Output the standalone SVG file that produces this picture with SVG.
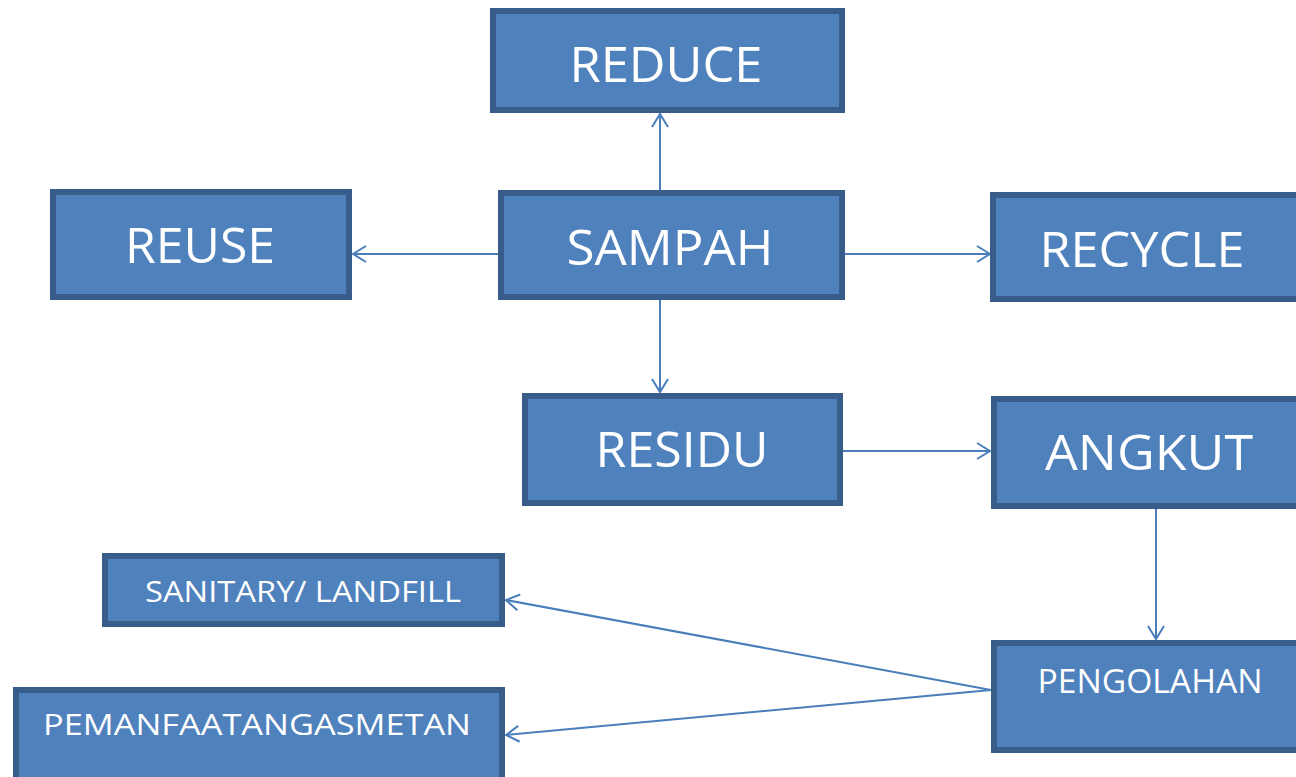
<svg xmlns="http://www.w3.org/2000/svg" width="1296" height="777" viewBox="0 0 1296 777">
<style>
.box{fill:#4f81bd;stroke:#385d8a;stroke-width:6;}
.t{fill:#ffffff;font-family:"Open Sans","Noto Sans",sans-serif;text-anchor:middle;}
.big{font-size:50px;}
.small{font-size:29px;}
.mid{font-size:32px;}
.c{stroke:#4a7ebb;stroke-width:2;fill:none;marker-end:url(#arr);}
</style>
<defs>
<marker id="arr" markerUnits="userSpaceOnUse" markerWidth="20" markerHeight="20" viewBox="-14 -10 16 20" refX="0" refY="0" orient="auto">
<path d="M-13,-8 L0,0 L-13,8" fill="none" stroke="#4a7ebb" stroke-width="2"/>
</marker>
</defs>
<g id="connectors">
<line class="c" x1="660" y1="190" x2="660" y2="114"/>
<line class="c" x1="498" y1="254" x2="353" y2="254"/>
<line class="c" x1="845" y1="254" x2="990" y2="254"/>
<line class="c" x1="660" y1="300" x2="660" y2="392"/>
<line class="c" x1="843" y1="451" x2="990" y2="451"/>
<line class="c" x1="1156" y1="509" x2="1156" y2="639"/>
<line class="c" x1="991" y1="690" x2="506" y2="600"/>
<line class="c" x1="991" y1="690" x2="506" y2="735"/>
</g>
<g id="reduce"><rect class="box" x="493" y="11" width="349" height="99"/><text class="t big" x="666" y="82" textLength="193" lengthAdjust="spacingAndGlyphs">REDUCE</text></g>
<g id="reuse"><rect class="box" x="53" y="192" width="296" height="105"/><text class="t big" x="200" y="263" textLength="150" lengthAdjust="spacingAndGlyphs">REUSE</text></g>
<g id="sampah"><rect class="box" x="501" y="193" width="341" height="104"/><text class="t big" x="670" y="265" textLength="207" lengthAdjust="spacingAndGlyphs">SAMPAH</text></g>
<g id="recycle"><rect class="box" x="993" y="195" width="310" height="104"/><text class="t big" x="1142" y="267" textLength="205" lengthAdjust="spacingAndGlyphs">RECYCLE</text></g>
<g id="residu"><rect class="box" x="525" y="396" width="315" height="107"/><text class="t big" x="682" y="467" textLength="173" lengthAdjust="spacingAndGlyphs">RESIDU</text></g>
<g id="angkut"><rect class="box" x="994" y="399" width="310" height="107"/><text class="t big" x="1149" y="470" textLength="208" lengthAdjust="spacingAndGlyphs">ANGKUT</text></g>
<g id="pengolahan"><rect class="box" x="994" y="643" width="310" height="107"/><text class="t mid" x="1150" y="693" textLength="225" lengthAdjust="spacingAndGlyphs">PENGOLAHAN</text></g>
<g id="sanitary"><rect class="box" x="105" y="556" width="397" height="68"/><text class="t small" x="303" y="602" textLength="316" lengthAdjust="spacingAndGlyphs">SANITARY/ LANDFILL</text></g>
<g id="pemanfaatan"><rect class="box" x="16" y="690" width="486" height="100"/><text class="t small" x="257" y="735" textLength="428" lengthAdjust="spacingAndGlyphs">PEMANFAATANGASMETAN</text></g>
</svg>
